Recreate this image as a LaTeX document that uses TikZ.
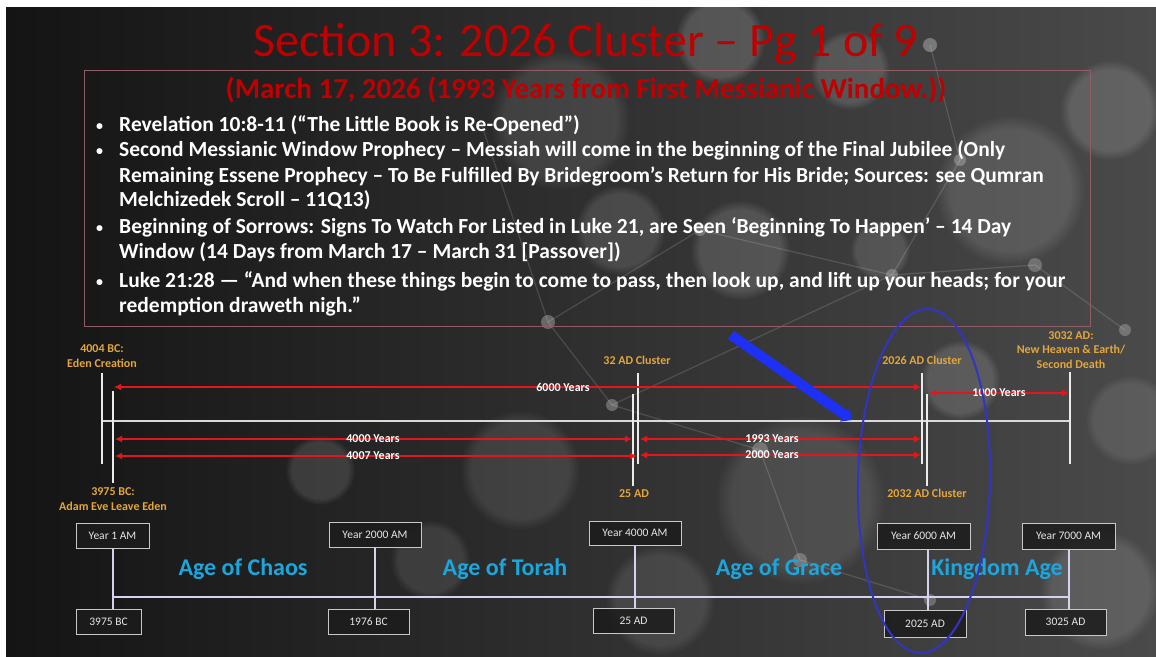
\documentclass[tikz,border=0pt]{standalone}
\usepackage{fontspec}
\setmainfont{Carlito}
\usetikzlibrary{arrows.meta,shapes.geometric,fadings}
\definecolor{titlered}{HTML}{C00000}
\definecolor{gold}{HTML}{E4A63C}
\definecolor{agecyan}{HTML}{1BA6DE}
\definecolor{arrred}{HTML}{E3161C}
\definecolor{panelline}{HTML}{8E5E66}
\definecolor{ellblue}{HTML}{3434C4}
\definecolor{thickblue}{HTML}{1E30F4}
\definecolor{bgdark}{HTML}{141414}
\definecolor{bglight}{HTML}{4A4A4A}
\definecolor{boxgray}{HTML}{C8C8C8}
\definecolor{boxfill}{HTML}{1C1C1C}
\definecolor{boxtext}{HTML}{E6E6E6}
\definecolor{lav}{HTML}{D4D4EC}
\begin{document}
\begin{tikzpicture}[x=1pt,y=-1pt,
  titletext/.style={text=titlered, font=\fontsize{48}{52}\selectfont, inner sep=0pt, anchor=base},
  subtext/.style={text=titlered, font=\bfseries\fontsize{29}{32}\selectfont, inner sep=0pt, anchor=base},
  bul/.style={text=white, font=\bfseries\fontsize{21.5}{24}\selectfont, anchor=base west, inner sep=0pt},
  bulmark/.style={text=white, font=\bfseries\fontsize{14}{16}\selectfont, anchor=base west, inner sep=0pt},
  goldlab/.style={text=gold, font=\bfseries\fontsize{12}{14.5}\selectfont, align=center, inner sep=1pt},
  yrs/.style={text=white, font=\bfseries\fontsize{12}{13}\selectfont, inner sep=1pt},
  redarr/.style={draw=arrred, line width=2.6pt, {Latex[length=7pt,width=7pt]}-{Latex[length=7pt,width=7pt]}},
  vline/.style={draw=white!92!black, line width=2.4pt},
  yearbox/.style={draw=boxgray, line width=1pt, fill=boxfill, fill opacity=0.85, text opacity=1, text=boxtext, font=\fontsize{11.5}{13}\selectfont, minimum height=25pt, inner sep=2pt},
  agelab/.style={text=agecyan, font=\bfseries\fontsize{24}{28}\selectfont, inner sep=0pt},
  blob/.style={fill=white, fill opacity=#1, path fading=circle with fuzzy edge 20 percent},
  blob/.default=0.08,
  dot/.style={fill=white, fill opacity=#1},
  net/.style={draw=white, draw opacity=0.14, line width=1.2pt}
]
\useasboundingbox (0,0) rectangle (1156,656);
\fill[white] (0,0) rectangle (1156,656);
\fill[left color=bgdark, right color=bglight] (6,7) rectangle (1156,656);
% background bokeh
\begin{scope}
\clip (6,7) rectangle (1156,656);
\fill[blob=0.10] (560,120) circle (70);
\fill[blob=0.16] (720,40) circle (45);
\fill[blob=0.14] (850,70) circle (40);
\fill[blob=0.12] (1010,190) circle (75);
\fill[blob=0.14] (1110,110) circle (50);
\fill[blob=0.10] (800,500) circle (85);
\fill[blob=0.10] (520,470) circle (60);
\fill[blob=0.12] (1100,590) circle (60);
\fill[blob=0.10] (660,600) circle (55);
\fill[blob=0.10] (430,560) circle (40);
\fill[blob=0.14] (960,380) circle (40);
\fill[blob=0.12] (320,470) circle (35);
\fill[blob=0.14] (740,250) circle (50);
\fill[blob=0.10] (1130,420) circle (45);
\fill[blob=0.12] (880,250) circle (30);
\fill[blob=0.12] (620,230) circle (45);
\draw[net] (480,120) -- (548,322) -- (612,405) -- (760,450);
\draw[net] (612,405) -- (892,275) -- (1035,265) -- (1125,330);
\draw[net] (892,275) -- (960,160) -- (930,45);
\draw[net] (760,450) -- (800,560) -- (930,600);
\draw[net] (548,322) -- (700,230) -- (892,275);
\fill[dot=0.28] (548,322) circle (7);
\fill[dot=0.28] (612,405) circle (6);
\fill[dot=0.24] (760,450) circle (8);
\fill[dot=0.24] (892,275) circle (6);
\fill[dot=0.24] (1035,265) circle (7);
\fill[dot=0.24] (1125,330) circle (6);
\fill[dot=0.24] (960,160) circle (6);
\fill[dot=0.30] (930,45) circle (7);
\fill[dot=0.24] (700,230) circle (6);
\fill[dot=0.24] (800,560) circle (7);
\fill[dot=0.24] (930,600) circle (6);
\end{scope}

% title and panel
\node[titletext] (title) at (586,56) {Section 3: 2026 Cluster – Pg 1 of 9};
\node[draw=panelline, line width=0.8pt, minimum width=1006pt, minimum height=256pt, anchor=north west, inner sep=0pt] (panel) at (84,70) {};
\node[subtext] (sub) at (586,98) {(March 17, 2026 (1993 Years from First Messianic Window.))};

% bullets
\node[bulmark] (b1) at (96,130) {•};
\node[bulmark] (b2) at (96,155) {•};
\node[bulmark] (b3) at (96,232) {•};
\node[bulmark] (b4) at (96,286) {•};
\node[bul] (l1) at (119,131) {Revelation 10:8-11 (“The Little Book is Re-Opened”)};
\node[bul] (l2) at (119,156) {Second Messianic Window Prophecy – Messiah will come in the beginning of the Final Jubilee (Only};
\node[bul] (l3) at (119,182) {Remaining Essene Prophecy – To Be Fulfilled By Bridegroom’s Return for His Bride; Sources: see Qumran};
\node[bul] (l4) at (119,206) {Melchizedek Scroll – 11Q13)};
\node[bul] (l5) at (119,233) {Beginning of Sorrows: Signs To Watch For Listed in Luke 21, are Seen ‘Beginning To Happen’ – 14 Day};
\node[bul] (l6) at (119,258) {Window (14 Days from March 17 – March 31 [Passover])};
\node[bul] (l7) at (119,287) {Luke 21:28 — “And when these things begin to come to pass, then look up, and lift up your heads; for your};
\node[bul] (l8) at (119,312) {redemption draweth nigh.”};

% upper timeline
\coordinate (hL) at (102,421);
\coordinate (hR) at (1070,421);
\draw[draw=white!85!black, line width=2pt] (hL) -- (hR);
\coordinate (ecT) at (102,373); \coordinate (ecB) at (102,464);
\coordinate (aeT) at (113,391); \coordinate (aeB) at (113,483);
\coordinate (c32T) at (638,373); \coordinate (c32B) at (638,464);
\coordinate (a25T) at (633,394); \coordinate (a25B) at (633,486);
\coordinate (c26T) at (922,373); \coordinate (c26B) at (922,464);
\coordinate (c32bT) at (927,394); \coordinate (c32bB) at (927,486);
\coordinate (nhT) at (1070,372); \coordinate (nhB) at (1070,464);
\draw[vline] (ecT) -- (ecB);
\draw[vline] (aeT) -- (aeB);
\draw[vline] (c32T) -- (c32B);
\draw[vline] (a25T) -- (a25B);
\draw[vline] (c26T) -- (c26B);
\draw[vline] (c32bT) -- (c32bB);
\draw[vline] (nhT) -- (nhB);

\node[goldlab] (lab4004) at (102,356) {4004 BC:\\Eden Creation};
\node[goldlab] (lab3975) at (113,499) {3975 BC:\\Adam Eve Leave Eden};
\node[goldlab] (lab32) at (637,360) {32 AD Cluster};
\node[goldlab] (lab25) at (634,494) {25 AD};
\node[goldlab] (lab2026) at (922,360) {2026 AD Cluster};
\node[goldlab] (lab2032) at (927,493) {2032 AD Cluster};
\node[goldlab] (lab3032) at (1071,350) {3032 AD:\\New Heaven \& Earth/\\Second Death};

% red span arrows
\coordinate (s6L) at (114,387); \coordinate (s6R) at (921,387);
\coordinate (s1L) at (929,393); \coordinate (s1R) at (1069,393);
\coordinate (s40L) at (115,439); \coordinate (s40R) at (632,439);
\coordinate (s47L) at (115,456); \coordinate (s47R) at (637,456);
\coordinate (s93L) at (640,439); \coordinate (s93R) at (921,439);
\coordinate (s20L) at (640,455); \coordinate (s20R) at (921,455);
\draw[redarr] (s6L) -- (s6R);
\draw[redarr] (s1L) -- (s1R);
\draw[redarr] (s40L) -- (s40R);
\draw[redarr] (s47L) -- (s47R);
\draw[redarr] (s93L) -- (s93R);
\draw[redarr] (s20L) -- (s20R);
\node[yrs] (y6000) at (563,387) {6000 Years};
\node[yrs] (y1000) at (999,393) {1000 Years};
\node[yrs] (y4000) at (373,439) {4000 Years};
\node[yrs] (y4007) at (373,456) {4007 Years};
\node[yrs] (y1993) at (772,439) {1993 Years};
\node[yrs] (y2000) at (772,455) {2000 Years};

% lower timeline
\coordinate (gL) at (112,597);
\coordinate (gR) at (1069,597);
\draw[draw=lav, line width=2.4pt] (gL) -- (gR);
\node[yearbox, minimum width=73pt] (Y1) at (112.5,535.5) {Year 1 AM};
\node[yearbox, minimum width=92pt] (Y2) at (375,534.5) {Year 2000 AM};
\node[yearbox, minimum width=92pt, minimum height=24pt] (Y4) at (635,533) {Year 4000 AM};
\node[yearbox, minimum width=93pt, minimum height=26pt] (Y6) at (923.5,536) {Year 6000 AM};
\node[yearbox, minimum width=93pt, minimum height=26pt] (Y7) at (1068.5,536) {Year 7000 AM};
\node[yearbox, minimum width=65pt] (B1) at (108.5,621.5) {3975 BC};
\node[yearbox, minimum width=81pt] (B2) at (368.5,621.5) {1976 BC};
\node[yearbox, minimum width=81pt] (B4) at (633.5,620.5) {25 AD};
\node[yearbox, minimum width=82pt, minimum height=27pt] (B6) at (925,623.5) {2025 AD};
\node[yearbox, minimum width=81pt, minimum height=26pt] (B7) at (1065.5,622) {3025 AD};
\draw[draw=lav, line width=2pt] (Y1.south) -- (Y1.south |- B1.north);
\draw[draw=lav, line width=2pt] (Y2.south) -- (Y2.south |- B2.north);
\draw[draw=lav, line width=2pt] (Y4.south) -- (Y4.south |- B4.north);
\draw[draw=lav, line width=2pt] ([xshift=4pt]Y6.south) -- ([xshift=4pt]Y6.south |- B6.north);
\draw[draw=lav, line width=2pt] (Y7.south) -- (Y7.south |- B7.north);
\node[agelab] (chaos) at (243,569) {Age of Chaos};
\node[agelab] (torah) at (505,569) {Age of Torah};
\node[agelab] (grace) at (779,569) {Age of Grace};
\node[agelab] (kingdom) at (997,569) {Kingdom Age};

% emphasis
\coordinate (baS) at (731,335);
\coordinate (baE) at (852,420);
\draw[draw=thickblue, line width=10pt, -{Triangle[length=9pt,width=16pt]}] (baS) -- (baE);
\node[draw=ellblue, line width=2pt, ellipse, minimum width=132pt, minimum height=344pt, inner sep=0pt, rotate=-1.3] (ring) at (924,481) {};
\end{tikzpicture}
\end{document}
